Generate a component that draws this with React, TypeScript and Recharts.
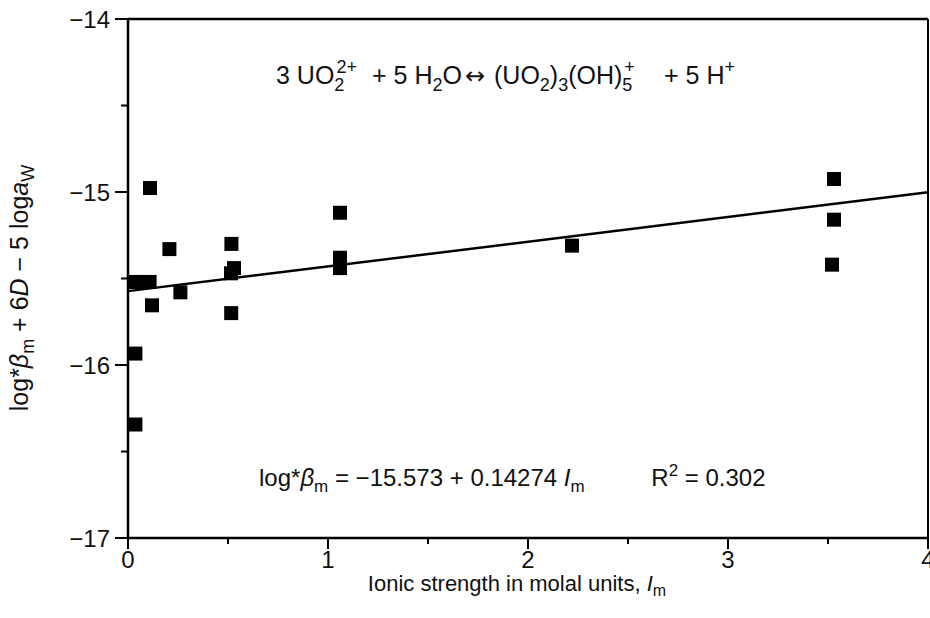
import React from 'react';
import { ComposedChart, Scatter, XAxis, YAxis, ReferenceLine } from 'recharts';

const ionicStrength = [0.037, 0.037, 0.037, 0.073, 0.108, 0.11, 0.12, 0.207, 0.262, 0.517, 0.515, 0.53, 0.516, 1.06, 1.06, 1.06, 2.22, 3.53, 3.53, 3.52];
const logBeta = [-16.344, -15.934, -15.52, -15.52, -15.52, -14.977, -15.655, -15.33, -15.58, -15.3, -15.47, -15.44, -15.7, -15.12, -15.38, -15.44, -15.31, -14.925, -15.16, -15.42];
const xTicks = [0, 0.5, 1, 1.5, 2, 2.5, 3, 3.5, 4];
const yTicks = [-17, -16.5, -16, -15.5, -15, -14.5, -14];
const intercept = -15.573;
const slope = 0.14274;

const points = ionicStrength.map((x, i) => ({ x, y: logBeta[i] }));

const FONT = '"Liberation Sans", Arial, Helvetica, sans-serif';
const fmt = (v: number) => (v < 0 ? '\u2212' + Math.abs(v) : String(v));

const XTick = (props: any) => {
  const { x, y, payload } = props;
  const major = Number.isInteger(payload.value);
  return (
    <g>
      <line x1={x} x2={x} y1={y} y2={y + (major ? 11 : 6)} stroke="#000" strokeWidth={2} />
      {major && (
        <text x={x} y={y + 30} textAnchor="middle" fontSize={24} fontFamily={FONT} fill="#111">
          {fmt(payload.value)}
        </text>
      )}
    </g>
  );
};

const YTick = (props: any) => {
  const { x, y, payload } = props;
  const major = Number.isInteger(payload.value);
  return (
    <g>
      <line x1={x} x2={x - (major ? 13 : 7)} y1={y} y2={y} stroke="#000" strokeWidth={2} />
      {major && (
        <text x={x - 18} y={y + 8.5} textAnchor="end" fontSize={24} fontFamily={FONT} fill="#111">
          {fmt(payload.value)}
        </text>
      )}
    </g>
  );
};

const Square = (props: any) => {
  const { cx, cy } = props;
  return <rect x={cx - 7} y={cy - 7} width={14} height={14} fill="#000" />;
};

export default function App() {
  return (
    <div style={{ position: 'absolute', left: 0, top: 0, background: '#fff' }}>
      <ComposedChart width={930} height={618} margin={{ top: 19, right: 2, left: 0, bottom: 0 }} data={points}>
        <XAxis
          dataKey="x"
          type="number"
          domain={[0, 4]}
          ticks={xTicks}
          interval={0}
          height={80}
          tickSize={0}
          tickMargin={0}
          tickLine={false}
          tick={<XTick />}
          axisLine={{ stroke: '#000', strokeWidth: 2.5 }}
        />
        <YAxis
          dataKey="y"
          type="number"
          domain={[-17, -14]}
          ticks={yTicks}
          interval={0}
          width={128}
          tickSize={0}
          tickMargin={0}
          tickLine={false}
          tick={<YTick />}
          axisLine={{ stroke: '#000', strokeWidth: 2.5 }}
        />
        <ReferenceLine y={-14} stroke="#000" strokeWidth={2.5} />
        <ReferenceLine x={4} stroke="#000" strokeWidth={2} />
        <ReferenceLine
          segment={[
            { x: 0, y: intercept },
            { x: 4, y: intercept + slope * 4 },
          ]}
          stroke="#000"
          strokeWidth={2.5}
        />
        <Scatter data={points} dataKey="y" shape={<Square />} isAnimationActive={false} />
        <g fontFamily={FONT} fill="#111" fontSize={25} style={{ whiteSpace: 'pre' }}>
          <text x={276} y={84} style={{ whiteSpace: 'pre' }}>
            <tspan>3 UO</tspan>
            <tspan fontSize={18} dy={7}>2</tspan>
            <tspan fontSize={18} dx={-8} dy={-18}>2+</tspan>
            <tspan x={372} dy={11}>+ 5 H</tspan>
            <tspan fontSize={18} dy={7}>2</tspan>
            <tspan dy={-7}>O</tspan>
            <tspan x={465} fontFamily="DejaVu Sans" fontSize={24}>{'\u2194'}</tspan>
            <tspan x={494}>(UO</tspan>
            <tspan fontSize={18} dy={7}>2</tspan>
            <tspan dy={-7}>)</tspan>
            <tspan fontSize={18} dy={7}>3</tspan>
            <tspan dy={-7}>(OH)</tspan>
            <tspan fontSize={18} dy={7}>5</tspan>
            <tspan fontSize={18} dx={-8} dy={-18}>+</tspan>
            <tspan x={664} dy={11}>+ 5 H</tspan>
            <tspan fontSize={18} dy={-11}>+</tspan>
          </text>
          <text x={259} y={486} fontSize={24} style={{ whiteSpace: 'pre' }}>
            <tspan>log*</tspan>
            <tspan fontStyle="italic">{'\u03B2'}</tspan>
            <tspan fontSize={17} dy={6}>m</tspan>
            <tspan dy={-6}>{' = \u221215.573 + 0.14274 '}</tspan>
            <tspan fontStyle="italic">I</tspan>
            <tspan fontSize={17} dy={6}>m</tspan>
            <tspan dy={-6}>{'          R'}</tspan>
            <tspan fontSize={17} dy={-10}>2</tspan>
            <tspan dy={10}>{' = 0.302'}</tspan>
          </text>
          <text x={517} y={591} textAnchor="middle" fontSize={22} style={{ whiteSpace: 'pre' }}>
            <tspan>Ionic strength in molal units, </tspan>
            <tspan fontStyle="italic">I</tspan>
            <tspan fontSize={16} dy={5}>m</tspan>
          </text>
          <text transform="translate(28, 288) rotate(-90)" textAnchor="middle" fontSize={25} style={{ whiteSpace: 'pre' }}>
            <tspan>log*</tspan>
            <tspan fontStyle="italic">{'\u03B2'}</tspan>
            <tspan fontSize={18} dy={6}>m</tspan>
            <tspan dy={-6}>{' + 6'}</tspan>
            <tspan fontStyle="italic">D</tspan>
            <tspan>{' \u2212 5 log'}</tspan>
            <tspan fontStyle="italic">a</tspan>
            <tspan fontSize={18} dy={6}>W</tspan>
          </text>
        </g>
      </ComposedChart>
    </div>
  );
}
